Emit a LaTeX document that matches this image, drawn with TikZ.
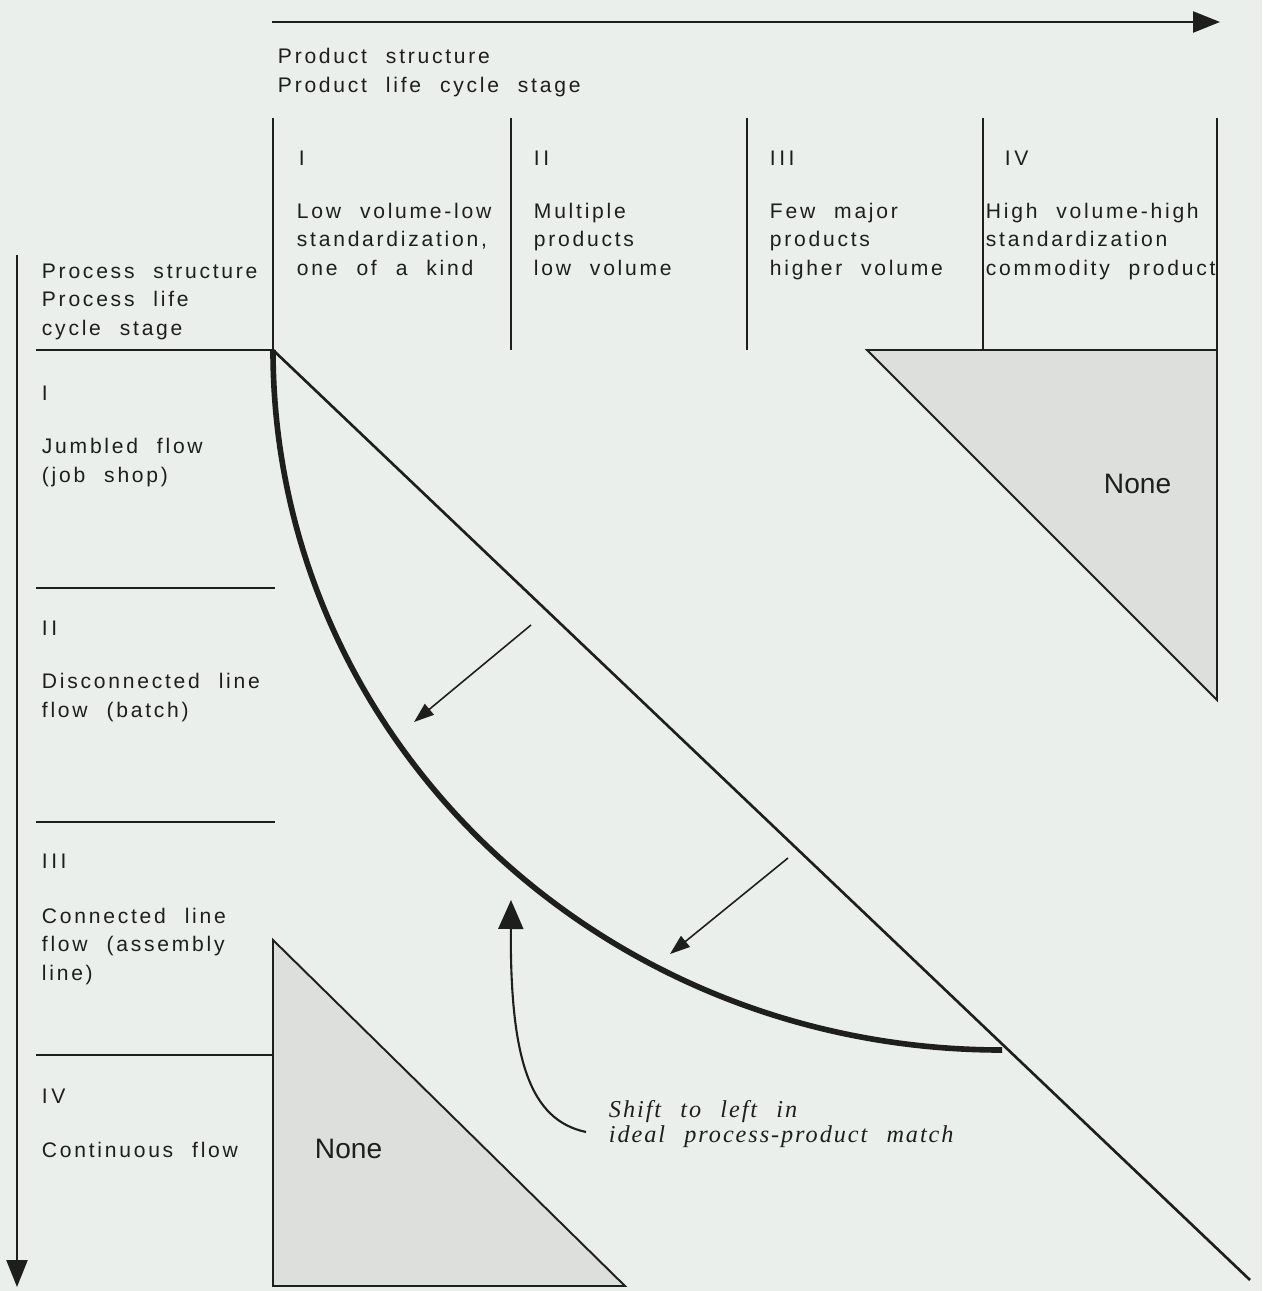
\documentclass[tikz,border=0pt]{standalone}
\usepackage{fontspec}
\usetikzlibrary{arrows.meta}
\newfontfamily\lblfont[LetterSpace=13,WordSpace=2.2]{Liberation Sans}
\newfontfamily\nonefont{Liberation Sans}
\newfontfamily\shiftfont[LetterSpace=8,WordSpace=2.4]{Liberation Serif}
\definecolor{paper}{HTML}{EAEFEB}
\definecolor{shade}{HTML}{DCDFDC}
\definecolor{ink}{HTML}{1E1E1E}
\tikzset{
  lbl/.style={font=\lblfont\fontsize{12}{16.2}\selectfont, align=left, anchor=base west, inner sep=0pt},
  nonelbl/.style={font=\nonefont\fontsize{16}{18}\selectfont, anchor=base west, inner sep=0pt},
  shiftlbl/.style={font=\shiftfont\itshape\fontsize{13.8}{14.2}\selectfont, align=left, anchor=base west, inner sep=0pt},
  axis/.style={line width=1.4pt, -{Triangle[length=0.54cm,width=0.42cm]}},
  move/.style={line width=0.9pt, -{Triangle[length=0.4cm,width=0.28cm]}},
  empty/.style={fill=shade, line width=1.1pt}
}
\begin{document}
\begin{tikzpicture}[x=0.02cm,y=-0.02cm, color=ink, line width=1.1pt]
  \fill[paper] (0,0) rectangle (1262,1291);
  \useasboundingbox (0,0) rectangle (1262,1291);

  \coordinate (prod0) at (272,22); \coordinate (prod1) at (1220,22);
  \coordinate (proc0) at (17,255); \coordinate (proc1) at (17,1287);
  \draw[axis] (prod0) -- (prod1);
  \draw[axis] (proc0) -- (proc1);

  \foreach \x in {273,511,747,983} \draw (\x,118) -- (\x,350);
  \draw (1217,118) -- (1217,700);
  \draw[line width=1.6pt] (36,350) -- (273,350);
  \foreach \y in {588,822} \draw (36,\y) -- (275,\y);
  \draw (36,1055) -- (273,1055);

  \filldraw[empty] (867,350) -- (1217,350) -- (1217,700) -- cycle;
  \filldraw[empty] (273,940) -- (625,1286) -- (273,1286) -- cycle;

  \coordinate (start) at (273,350);
  \coordinate (diag) at (1250,1280);
  \coordinate (ideal) at (1002,1050);
  \draw[line width=1.5pt] (start) -- (diag);
  \draw[line width=3.2pt] (start) .. controls (273,737) and (598,1050) .. (ideal);

  \coordinate (a1) at (531,625); \coordinate (b1) at (414,722);
  \coordinate (a2) at (788,858); \coordinate (b2) at (670,954);
  \draw[move] (a1) -- (b1);
  \draw[move] (a2) -- (b2);

  \node[lbl] (prodtitle) at (277,92) {Product structure\\Product life cycle stage};
  \node[lbl] (c1) at (298,165) {I};
  \node[lbl] (c2) at (533,165) {I\,I};
  \node[lbl] (c3) at (769,165) {I\,I\,I};
  \node[lbl] (c4) at (1004,165) {I\,V};
  \node[lbl] (c1t) at (296,275) {Low volume-low\\standardization,\\one of a kind};
  \node[lbl] (c2t) at (533,275) {Multiple\\products\\low volume};
  \node[lbl] (c3t) at (769,275) {Few major\\products\\higher volume};
  \node[lbl] (c4t) at (985,275) {High volume-high\\standardization\\commodity product};

  \node[lbl] (proctitle) at (41,335) {Process structure\\Process life\\cycle stage};
  \node[lbl] (r1) at (41,400) {I};
  \node[lbl] (r1t) at (41,482) {Jumbled flow\\(job shop)};
  \node[lbl] (r2) at (41,635) {I\,I};
  \node[lbl] (r2t) at (41,717) {Disconnected line\\flow (batch)};
  \node[lbl] (r3) at (41,868) {I\,I\,I};
  \node[lbl] (r3t) at (41,980) {Connected line\\flow (assembly\\line)};
  \node[lbl] (r4) at (41,1103) {I\,V};
  \node[lbl] (r4t) at (41,1157) {Continuous flow};

  \node[nonelbl] (none1) at (1103,493) {None};
  \node[nonelbl] (none2) at (314,1158) {None};

  \node[shiftlbl] (shift) at (608,1142) {Shift to left in\\ideal process-product match};
  \coordinate (tail) at (586,1132);
  \coordinate (head) at (511,900);
  \draw[line width=1.2pt, -{Triangle[length=0.58cm,width=0.5cm]}] (tail) .. controls (530,1120) and (510,1060) .. (head);
\end{tikzpicture}
\end{document}
